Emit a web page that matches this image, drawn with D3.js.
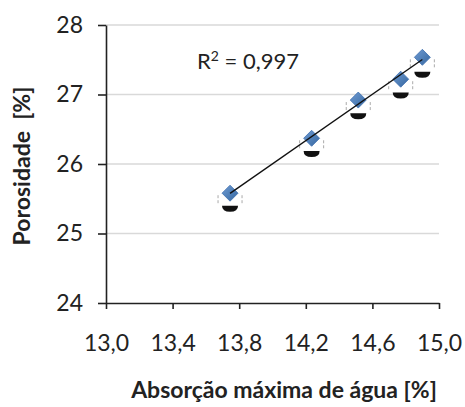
<!DOCTYPE html>
<html>
<head>
<meta charset="utf-8">
<script src="https://cdn.jsdelivr.net/npm/d3@7"></script>
<style>
  html, body { margin: 0; padding: 0; background: #fff; }
  svg { display: block; }
  text { font-family: Lato, "Open Sans", sans-serif; fill: #222; white-space: pre; }
</style>
</head>
<body>
<svg id="chart" width="465" height="407"></svg>
<script>
// Absorção máxima de água (%) vs porosidade (%)
const absorcao = [13.745, 14.235, 14.515, 14.77, 14.90];
const porosidade = [25.58, 26.37, 26.92, 27.22, 27.535];
// lower companion markers drawn under each point
const marcadorInferior = [25.37, 26.16, 26.70, 27.00, 27.30];

const xTicks = [13.0, 13.4, 13.8, 14.2, 14.6, 15.0];
const yTicks = [24, 25, 26, 27, 28];
const r2Value = "0,997";
const xTitle = "Absorção máxima de água [%]";
const yTitle = "Porosidade  [%]";

const svg = d3.select("#chart");
const m = { left: 106, right: 439, top: 25, bottom: 303 };

const x = d3.scaleLinear().domain([13, 15]).range([m.left, m.right]);
const y = d3.scaleLinear().domain([24, 28]).range([m.bottom, m.top]);

// horizontal gridlines
svg.append("g")
  .selectAll("line")
  .data(yTicks.filter(d => d > 24))
  .join("line")
  .attr("x1", m.left).attr("x2", m.right)
  .attr("y1", d => y(d)).attr("y2", d => y(d))
  .attr("stroke", "#d9d9d9").attr("stroke-width", 1.5);

const fmt = d => d3.format(".1f")(d).replace(".", ",");

// x axis
const gx = svg.append("g")
  .attr("transform", `translate(0,${m.bottom})`)
  .call(d3.axisBottom(x).tickValues(xTicks).tickFormat(fmt).tickSizeInner(6).tickSizeOuter(0).tickPadding(26));
gx.select(".domain").attr("stroke", "#222").attr("stroke-width", 1.6);
gx.selectAll(".tick line").attr("stroke", "#222").attr("stroke-width", 1.6);
gx.selectAll(".tick text").attr("font-size", 23).attr("font-family", "Lato, sans-serif").attr("fill", "#222");

// y axis
const gy = svg.append("g")
  .attr("transform", `translate(${m.left},0)`)
  .call(d3.axisLeft(y).tickValues(yTicks).tickFormat(d3.format("d")).tickSizeInner(8).tickSizeOuter(0).tickPadding(15));
gy.select(".domain").attr("stroke", "#222").attr("stroke-width", 1.6);
gy.selectAll(".tick line").attr("stroke", "#222").attr("stroke-width", 1.6);
gy.selectAll(".tick text").attr("font-size", 23).attr("font-family", "Lato, sans-serif").attr("fill", "#222");

// least-squares trend line through the points
const n = absorcao.length;
const mx = d3.mean(absorcao), my = d3.mean(porosidade);
let sxy = 0, sxx = 0;
for (let i = 0; i < n; i++) {
  sxy += (absorcao[i] - mx) * (porosidade[i] - my);
  sxx += (absorcao[i] - mx) ** 2;
}
const slope = sxy / sxx, intercept = my - slope * mx;
const x0 = d3.min(absorcao), x1 = d3.max(absorcao);

// companion markers: dark half-ellipses with faint side brackets
const lower = svg.append("g");
absorcao.forEach((a, i) => {
  const cx = x(a), cy = y(marcadorInferior[i]);
  lower.append("path")
    .attr("d", `M${cx - 8},${cy - 2} L${cx + 8},${cy - 2} Q${cx + 8},${cy + 4} ${cx},${cy + 4} Q${cx - 8},${cy + 4} ${cx - 8},${cy - 2} Z`)
    .attr("fill", "#111");
  [-1, 1].forEach(s => {
    lower.append("line")
      .attr("x1", cx + s * 12).attr("x2", cx + s * 12)
      .attr("y1", y(porosidade[i]) + 2).attr("y2", y(porosidade[i]) + 10)
      .attr("stroke", "#aaa").attr("stroke-width", 1).attr("stroke-dasharray", "3,2");
  });
});

// diamonds
const defs = svg.append("defs");
const grad = defs.append("linearGradient").attr("id", "dg")
  .attr("x1", "0").attr("y1", "0").attr("x2", "1").attr("y2", "1");
grad.append("stop").attr("offset", "0").attr("stop-color", "#6f9bd3");
grad.append("stop").attr("offset", "1").attr("stop-color", "#35679f");

svg.append("g")
  .selectAll("path")
  .data(absorcao.map((a, i) => [a, porosidade[i]]))
  .join("path")
  .attr("transform", d => `translate(${x(d[0])},${y(d[1])})`)
  .attr("d", "M0,-8 L8,0 L0,8 L-8,0 Z")
  .attr("fill", "url(#dg)")
  .attr("stroke", "#3d6fae").attr("stroke-width", 0.8);

svg.append("line")
  .attr("x1", x(x0)).attr("y1", y(slope * x0 + intercept))
  .attr("x2", x(x1)).attr("y2", y(slope * x1 + intercept))
  .attr("stroke", "#111").attr("stroke-width", 1.4);

// R² annotation
const r2 = svg.append("text")
  .attr("x", 197).attr("y", 69)
  .attr("font-size", 22);
r2.append("tspan").text("R");
r2.append("tspan").attr("font-size", 14).attr("dy", -8).text("2");
r2.append("tspan").attr("dy", 8).text(` = ${r2Value}`);

// axis titles
svg.append("text")
  .attr("x", 284).attr("y", 398)
  .attr("text-anchor", "middle")
  .attr("font-size", 23).attr("font-weight", "bold")
  .text(xTitle);

svg.append("text")
  .attr("transform", `translate(30,166) rotate(-90)`)
  .attr("text-anchor", "middle")
  .attr("font-size", 23).attr("font-weight", "bold")
  .text(yTitle);
</script>
</body>
</html>
